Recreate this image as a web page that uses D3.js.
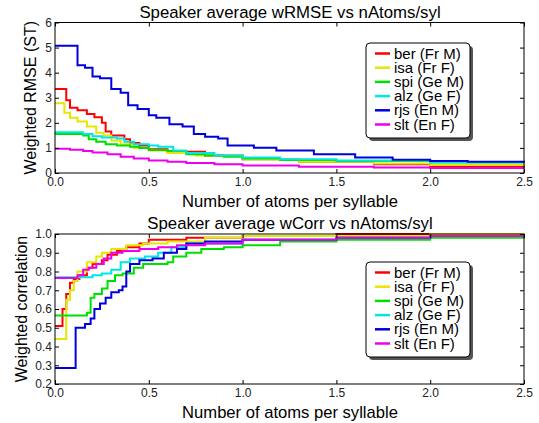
<!DOCTYPE html>
<html>
<head>
<meta charset="utf-8">
<script src="https://cdn.jsdelivr.net/npm/d3@7"></script>
<style>
body { margin: 0; background: #fff; }
svg { font-family: "Liberation Sans", Arial, sans-serif; }
</style>
</head>
<body>
<svg id="chart" width="539" height="423"></svg>
<script>
// speakers + legend labels
const speakers = ["ber (Fr M)", "isa (Fr F)", "spi (Ge M)", "alz (Ge F)", "rjs (En M)", "slt (En F)"]
const colors = ["#ff0000", "#e6e600", "#00e000", "#00e5e5", "#0000dd", "#ee00ee"]

// wRMSE vs nAtoms/syl, pairs [x, y]
const rmseBer = [[0,3.35],[0.06,2.9],[0.08,2.6],[0.12,2.5],[0.17,2.35],[0.21,2.22],[0.25,2.0],[0.27,1.65],[0.3,1.5],[0.37,1.35],[0.4,1.2],[0.45,1.1],[0.5,0.95],[0.6,0.85],[0.8,0.7],[1.0,0.55],[1.3,0.45],[1.7,0.35],[2.0,0.28],[2.5,0.25]]
const rmseIsa = [[0,2.78],[0.05,2.4],[0.08,2.2],[0.12,2.05],[0.17,1.85],[0.22,1.6],[0.26,1.5],[0.3,1.3],[0.35,1.15],[0.42,1.0],[0.5,0.9],[0.6,0.8],[0.75,0.7],[1.0,0.55],[1.3,0.45],[1.7,0.38],[2.0,0.32],[2.5,0.3]]
const rmseSpi = [[0,1.55],[0.15,1.5],[0.18,1.35],[0.22,1.25],[0.27,1.15],[0.33,1.1],[0.4,1.05],[0.45,1.0],[0.5,0.92],[0.6,0.88],[0.7,0.75],[0.8,0.7],[0.9,0.65],[1.0,0.58],[1.2,0.52],[1.5,0.48],[2.0,0.42],[2.5,0.38]]
const rmseAlz = [[0,1.62],[0.15,1.55],[0.2,1.47],[0.25,1.42],[0.33,1.38],[0.37,1.25],[0.42,1.15],[0.5,1.1],[0.55,1.05],[0.63,0.9],[0.7,0.8],[0.85,0.7],[1.0,0.62],[1.2,0.55],[1.5,0.5],[2.0,0.43],[2.5,0.4]]
const rmseRjs = [[0,5.07],[0.12,4.3],[0.16,4.2],[0.2,3.85],[0.24,3.78],[0.3,3.35],[0.35,3.2],[0.39,2.7],[0.44,2.55],[0.5,2.3],[0.54,2.2],[0.61,1.94],[0.68,1.85],[0.74,1.55],[0.8,1.45],[0.87,1.38],[0.92,1.1],[1.06,1.01],[1.18,0.9],[1.38,0.75],[1.6,0.62],[1.8,0.53],[2.0,0.48],[2.2,0.45],[2.5,0.43]]
const rmseSlt = [[0,0.97],[0.08,0.93],[0.15,0.88],[0.2,0.82],[0.28,0.75],[0.35,0.65],[0.42,0.58],[0.5,0.5],[0.6,0.45],[0.7,0.4],[0.85,0.35],[1.0,0.3],[1.3,0.25],[1.7,0.22],[2.0,0.2],[2.5,0.18]]

// wCorr vs nAtoms/syl
const corrBer = [[0,0.51],[0.04,0.6],[0.06,0.68],[0.08,0.74],[0.1,0.76],[0.13,0.78],[0.17,0.82],[0.2,0.84],[0.25,0.86],[0.28,0.89],[0.33,0.91],[0.38,0.93],[0.45,0.95],[0.5,0.97],[0.7,0.98],[1.0,0.99],[1.5,1.0],[2.5,1.0]]
const corrIsa = [[0,0.44],[0.06,0.65],[0.08,0.7],[0.1,0.75],[0.12,0.8],[0.17,0.85],[0.22,0.88],[0.25,0.9],[0.3,0.92],[0.38,0.94],[0.47,0.95],[0.6,0.96],[0.8,0.98],[1.0,0.99],[2.0,1.0],[2.5,1.0]]
const corrSpi = [[0,0.565],[0.17,0.58],[0.19,0.66],[0.21,0.68],[0.25,0.71],[0.28,0.75],[0.32,0.78],[0.36,0.79],[0.42,0.82],[0.47,0.84],[0.6,0.85],[0.63,0.88],[0.7,0.9],[0.78,0.92],[0.9,0.93],[1.0,0.94],[1.2,0.96],[1.5,0.97],[2.0,0.98],[2.5,0.99]]
const corrAlz = [[0,0.77],[0.2,0.78],[0.25,0.79],[0.3,0.81],[0.35,0.85],[0.4,0.87],[0.48,0.88],[0.55,0.9],[0.62,0.93],[0.7,0.95],[1.0,0.97],[1.5,0.98],[2.0,0.99],[2.5,0.99]]
const corrRjs = [[0,0.285],[0.11,0.5],[0.16,0.52],[0.19,0.55],[0.21,0.6],[0.24,0.63],[0.27,0.66],[0.3,0.69],[0.34,0.7],[0.36,0.72],[0.38,0.8],[0.4,0.84],[0.45,0.86],[0.52,0.87],[0.58,0.9],[0.65,0.92],[0.7,0.95],[0.8,0.96],[1.0,0.97],[1.5,0.98],[2.0,0.99],[2.5,0.99]]
const corrSlt = [[0,0.765],[0.12,0.78],[0.15,0.81],[0.18,0.82],[0.22,0.84],[0.26,0.87],[0.3,0.9],[0.36,0.91],[0.45,0.92],[0.55,0.93],[0.65,0.94],[0.8,0.95],[1.0,0.97],[1.5,0.98],[2.0,0.99],[2.5,0.99]]

const xTicks = [0, 0.5, 1.0, 1.5, 2.0, 2.5]
const rmseTicks = [0, 1, 2, 3, 4, 5, 6]
const corrTicks = [0.2, 0.3, 0.4, 0.5, 0.6, 0.7, 0.8, 0.9, 1.0]

const svg = d3.select("#chart")

function panel(cfg) {
	let x = d3.scaleLinear().domain([0, 2.5]).range([55, 524])
	let y = d3.scaleLinear().domain(cfg.ydom).range([cfg.bottom, cfg.top])
	let g = svg.append("g")

	// data lines first, frame over them
	let line = d3.line().x(d => x(d[0])).y(d => y(d[1])).curve(d3.curveStepAfter)
	g.selectAll(".series").data(cfg.series).enter().append("path")
		.attr("d", d => line(d))
		.attr("fill", "none")
		.attr("stroke", (d, i) => colors[i])
		.attr("stroke-width", 2)

	let ax = (sel, axis) => {
		sel.call(axis)
		sel.select(".domain").remove()
		sel.selectAll("line").attr("stroke", "#000")
		sel.selectAll("text").attr("font-size", 12).attr("fill", "#222")
	}
	g.append("g").attr("transform", `translate(0,${cfg.bottom})`)
		.call(s => ax(s, d3.axisBottom(x).tickValues(xTicks).tickFormat(d3.format(".1f")).tickSizeInner(-4).tickPadding(4)))
	g.append("g").attr("transform", `translate(0,${cfg.top})`)
		.call(s => ax(s, d3.axisTop(x).tickValues(xTicks).tickFormat("").tickSizeInner(-4)))
	g.append("g").attr("transform", `translate(55,0)`)
		.call(s => ax(s, d3.axisLeft(y).tickValues(cfg.yticks).tickFormat(cfg.yfmt).tickSizeInner(-4).tickPadding(3)))
	g.append("g").attr("transform", `translate(524,0)`)
		.call(s => ax(s, d3.axisRight(y).tickValues(cfg.yticks).tickFormat("").tickSizeInner(-4)))

	g.append("rect").attr("x", 55).attr("y", cfg.top).attr("width", 469).attr("height", cfg.bottom - cfg.top)
		.attr("fill", "none").attr("stroke", "#000").attr("stroke-width", 1)

	g.append("text").attr("x", 290).attr("y", cfg.top - 5).attr("text-anchor", "middle")
		.attr("font-size", 16.8).text(cfg.title)
	g.append("text").attr("x", 290).attr("y", cfg.bottom + 34).attr("text-anchor", "middle")
		.attr("font-size", 16.6).text("Number of atoms per syllable")
	g.append("text").attr("transform", `translate(${cfg.ylabX},${(cfg.top + cfg.bottom) / 2}) rotate(-90)`)
		.attr("text-anchor", "middle").attr("font-size", 16).text(cfg.ylabel)

	// legend
	let lg = g.append("g").attr("transform", `translate(366,${cfg.legTop})`)
	lg.append("rect").attr("x", 3).attr("y", 3).attr("width", 104).attr("height", 95).attr("rx", 4)
		.attr("fill", "#555")
	lg.append("rect").attr("x", 0).attr("y", 0).attr("width", 104).attr("height", 95).attr("rx", 4)
		.attr("fill", "#fff").attr("stroke", "#000").attr("stroke-width", 1)
	let items = lg.selectAll(".item").data(speakers).enter().append("g")
		.attr("transform", (d, i) => `translate(0,${10.5 + i * 14.2})`)
	items.append("line").attr("x1", 9).attr("x2", 24).attr("stroke", (d, i) => colors[i]).attr("stroke-width", 2.5)
	items.append("text").attr("x", 28).attr("y", 5).attr("font-size", 15).text(d => d)
}

panel({
	top: 22.5, bottom: 173, ydom: [0, 6], yticks: rmseTicks, yfmt: d3.format("d"),
	series: [rmseBer, rmseIsa, rmseSpi, rmseAlz, rmseRjs, rmseSlt],
	title: "Speaker average wRMSE vs nAtoms/syl", ylabel: "Weighted RMSE (ST)", ylabX: 36, legTop: 43
})
panel({
	top: 234, bottom: 384, ydom: [0.2, 1.0], yticks: corrTicks, yfmt: d3.format(".1f"),
	series: [corrBer, corrIsa, corrSpi, corrAlz, corrRjs, corrSlt],
	title: "Speaker average wCorr vs nAtoms/syl", ylabel: "Weighted correlation", ylabX: 27, legTop: 262
})
</script>
</body>
</html>
